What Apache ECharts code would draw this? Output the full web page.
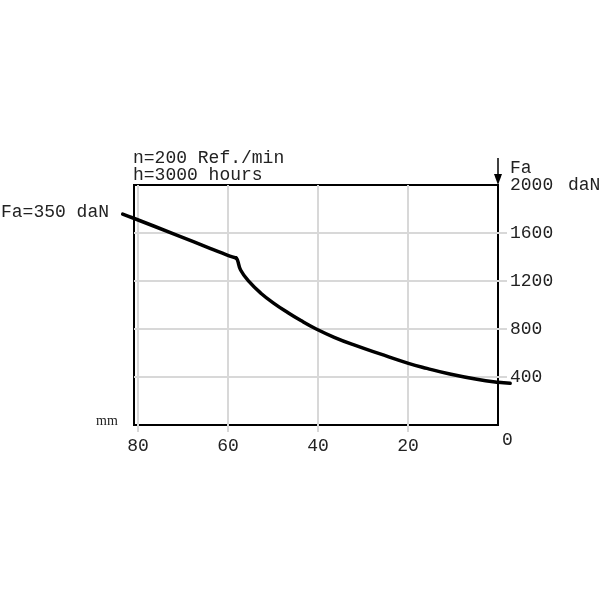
<!DOCTYPE html>
<html>
<head>
<meta charset="utf-8">
<script src="https://cdn.jsdelivr.net/npm/echarts@6/dist/echarts.min.js"></script>
<style>html,body{margin:0;padding:0;background:#fff}#c{width:600px;height:600px}</style>
</head>
<body>
<div id="c"></div>
<script>
// Data
const xTicks = [20, 40, 60, 80];
const yTicks = [400, 800, 1200, 1600];
// segment before the kink (mm, daN)
const mm1 = [83.4, 81.1, 71.4, 64.0, 59.6, 58.2];
const fa1 = [1758, 1725, 1583, 1472, 1408, 1392];
// segment after the kink
const mm2 = [58.2, 57.9, 57.2, 55.3, 52.7, 49.8, 46.8, 43.8, 40.4, 36.4, 32.0, 26.2, 19.9, 15.8, 10.7, 4.7, 0, -2.7];
const fa2 = [1392, 1375, 1292, 1194, 1098, 1014, 939, 870, 800, 731, 667, 592, 514, 472, 425, 381, 356, 347];

const mono = "'Liberation Mono', 'Courier New', monospace";
const txt = '#222';
const gridGray = '#d8d8d8';

const chart = echarts.init(document.getElementById('c'), null, {renderer: 'canvas'});
const pairs = (a, b) => a.map((v, i) => [v, b[i]]);
const lineStyle = {color: '#000', width: 3.5, cap: 'round', join: 'round'};

chart.setOption({
  animation: false,
  grid: [
    // the framed plot box (4.5 px per mm, 0.12 px per daN)
    {left: 134, right: 102, top: 185, bottom: 175, show: true, borderColor: '#000', borderWidth: 2,
     backgroundColor: 'transparent', outerBoundsMode: 'none', containLabel: false},
    // same scale, wider extent so the curve can run past the frame
    {left: 115.5, right: 79.5, top: 185, bottom: 175, outerBoundsMode: 'none', containLabel: false}
  ],
  xAxis: [
    {
      gridIndex: 0, type: 'value', inverse: true, min: 0, max: 80.9, interval: 20,
      axisLine: {show: false},
      axisTick: {show: true, length: 7, lineStyle: {color: gridGray, width: 2}, customValues: xTicks},
      splitLine: {show: true, lineStyle: {color: gridGray, width: 2}},
      axisLabel: {customValues: xTicks, margin: 12, fontFamily: mono, fontSize: 18, color: txt}
    },
    {gridIndex: 1, type: 'value', inverse: true, min: -5, max: 85, show: false}
  ],
  yAxis: [
    {
      gridIndex: 0, type: 'value', position: 'right', min: 0, max: 2000, interval: 400,
      axisLine: {show: false},
      axisTick: {show: true, length: 9, lineStyle: {color: gridGray, width: 2}, customValues: yTicks},
      splitLine: {show: true, lineStyle: {color: gridGray, width: 2}},
      axisLabel: {
        margin: 12, fontFamily: mono, fontSize: 18, color: txt,
        formatter: v => v === 2000 ? '2000 {u|daN}' : (v === 0 ? '' : String(v)),
        rich: {u: {fontFamily: mono, fontSize: 18, color: txt, padding: [0, 0, 0, 4]}}
      }
    },
    {gridIndex: 1, type: 'value', min: 0, max: 2000, show: false}
  ],
  series: [
    {type: 'line', xAxisIndex: 1, yAxisIndex: 1, data: pairs(mm1, fa1), smooth: 0.3, symbol: 'none', clip: false, lineStyle: lineStyle},
    {type: 'line', xAxisIndex: 1, yAxisIndex: 1, data: pairs(mm2, fa2), smooth: 0.45, symbol: 'none', clip: false, lineStyle: lineStyle}
  ],
  graphic: [
    {type: 'text', left: 133, top: 149, style: {text: 'n=200 Ref./min', font: '18px ' + mono, fill: txt}},
    {type: 'text', left: 133, top: 166, style: {text: 'h=3000 hours', font: '18px ' + mono, fill: txt}},
    {type: 'text', left: 510, top: 159, style: {text: 'Fa', font: '18px ' + mono, fill: txt}},
    {type: 'text', left: 1, top: 203, style: {text: 'Fa=350 daN', font: '18px ' + mono, fill: txt}},
    {type: 'text', left: 96, top: 414, style: {text: 'mm', font: "14px 'Liberation Serif', serif", fill: txt}},
    {type: 'text', left: 502, top: 431, style: {text: '0', font: '18px ' + mono, fill: txt}},
    {type: 'line', shape: {x1: 498, y1: 158, x2: 498, y2: 176}, style: {stroke: '#000', lineWidth: 1.5}},
    {type: 'polygon', shape: {points: [[494, 174], [502, 174], [498, 185]]}, style: {fill: '#000'}}
  ]
});
</script>
</body>
</html>
